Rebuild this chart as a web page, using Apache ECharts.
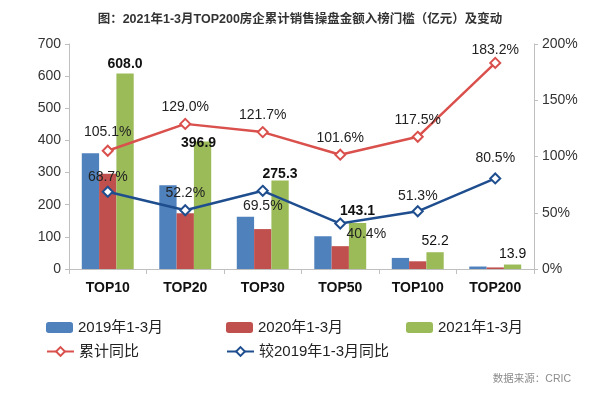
<!DOCTYPE html>
<html>
<head>
<meta charset="utf-8">
<script src="https://cdn.jsdelivr.net/npm/echarts@6/dist/echarts.min.js"></script>
<style>
html,body{margin:0;padding:0;background:#fff;}
#c{width:600px;height:395px;}
</style>
</head>
<body>
<div id="c"></div>
<script>
var categories = ['TOP10', 'TOP20', 'TOP30', 'TOP50', 'TOP100', 'TOP200'];
var v2019 = [360.4, 260.8, 162.4, 101.9, 34.5, 7.7];
var v2020 = [296.4, 173.3, 124.2, 71.0, 24.0, 4.9];
var v2021 = [608.0, 396.9, 275.3, 143.1, 52.2, 13.9];
var yoy = [105.1, 129.0, 121.7, 101.6, 117.5, 183.2];
var vs2019 = [68.7, 52.2, 69.5, 40.4, 51.3, 80.5];
var leftTicks = [0, 700, 100];
var rightTicks = [0, 200, 50];

var FONT = 'Liberation Sans, Arial, "Noto Sans CJK SC", sans-serif';
var chart = echarts.init(document.getElementById('c'));

var greenLabelStyle = [
  {fontWeight: 'bold', offset: [0, 3]},
  {fontWeight: 'bold', offset: [-4, 14]},
  {fontWeight: 'bold', offset: [0, 6]},
  {fontWeight: 'bold', offset: [0, 0]},
  {fontWeight: 'normal', offset: [0, 1]},
  {fontWeight: 'normal', offset: [0, 2]}
];
var redLabelStyle = [
  {offset: [0, -2]}, {offset: [0, 0]}, {offset: [0, 0]},
  {offset: [0, 0]}, {offset: [0, 0]}, {offset: [0, 4]}
];
var blueLabelStyle = [
  {position: 'top', offset: [0, 0]},
  {position: 'top', offset: [0, -2]},
  {position: 'bottom', offset: [0, 0]},
  {position: 'bottom', offset: [26, -4]},
  {position: 'top', offset: [0, 0]},
  {position: 'top', offset: [0, -5]}
];

function legendItem(name, left, top) {
  return {
    data: [name], left: left, top: top, itemWidth: 27, itemHeight: 11,
    textStyle: {fontSize: 15, color: '#222', fontFamily: FONT}, padding: 0, itemGap: 0
  };
}

var option = {
  backgroundColor: '#fff',
  animation: false,
  title: [{
    text: '图：2021年1-3月TOP200房企累计销售操盘金额入榜门槛（亿元）及变动',
    left: 'center', top: 8,
    textStyle: {fontSize: 12.5, fontWeight: 'bold', color: '#333', fontFamily: FONT}
  }, {
    text: '数据来源：CRIC', right: 24, top: 369,
    textStyle: {fontSize: 10.5, fontWeight: 'normal', color: '#8c8c8c', fontFamily: FONT}
  }],
  legend: [
    legendItem('2019年1-3月', 46, 320),
    legendItem('2020年1-3月', 226, 320),
    legendItem('2021年1-3月', 406, 320),
    legendItem('累计同比', 46, 344),
    legendItem('较2019年1-3月同比', 226, 344)
  ],
  grid: {left: 69, right: 66, top: 44, bottom: 126},
  xAxis: {
    type: 'category', data: categories,
    axisLine: {lineStyle: {color: '#bfbfbf', width: 1}},
    axisTick: {show: true, length: 5, lineStyle: {color: '#bfbfbf'}},
    axisLabel: {fontSize: 14, fontWeight: 'bold', color: '#111', margin: 12, fontFamily: FONT}
  },
  yAxis: [{
    type: 'value', min: leftTicks[0], max: leftTicks[1], interval: leftTicks[2],
    axisLine: {show: true, lineStyle: {color: '#bfbfbf'}},
    axisTick: {show: true, length: 4, lineStyle: {color: '#bfbfbf'}},
    splitLine: {show: false},
    axisLabel: {fontSize: 14, color: '#333', margin: 8, fontFamily: FONT}
  }, {
    type: 'value', min: rightTicks[0], max: rightTicks[1], interval: rightTicks[2],
    axisLine: {show: true, lineStyle: {color: '#bfbfbf'}},
    axisTick: {show: true, length: 4, lineStyle: {color: '#bfbfbf'}},
    splitLine: {show: false},
    axisLabel: {fontSize: 14, color: '#333', margin: 8, formatter: '{value}%', fontFamily: FONT}
  }],
  series: [{
    name: '2019年1-3月', type: 'bar', data: v2019, barGap: '0%', barCategoryGap: '33%',
    itemStyle: {color: '#4f81bd'}
  }, {
    name: '2020年1-3月', type: 'bar', data: v2020,
    itemStyle: {color: '#c0504d'}
  }, {
    name: '2021年1-3月', type: 'bar',
    data: v2021.map(function (v, i) {
      return {value: v, label: greenLabelStyle[i]};
    }),
    itemStyle: {color: '#9bbb59'},
    label: {show: true, position: 'top', fontSize: 14, color: '#111', distance: 5,
      formatter: function (p) { return p.value.toFixed(1); }, fontFamily: FONT}
  }, {
    name: '累计同比', type: 'line', yAxisIndex: 1,
    data: yoy.map(function (v, i) {
      return {value: v, label: redLabelStyle[i]};
    }),
    symbol: 'diamond', symbolSize: 10, showAllSymbol: true,
    lineStyle: {color: '#d9504c', width: 2.5},
    itemStyle: {color: '#fff', borderColor: '#d9504c', borderWidth: 2},
    label: {show: true, position: 'top', distance: 4, fontSize: 14, color: '#222',
      formatter: function (p) { return p.value.toFixed(1) + '%'; }, fontFamily: FONT},
    z: 5
  }, {
    name: '较2019年1-3月同比', type: 'line', yAxisIndex: 1,
    data: vs2019.map(function (v, i) {
      return {value: v, label: blueLabelStyle[i]};
    }),
    symbol: 'diamond', symbolSize: 10, showAllSymbol: true,
    lineStyle: {color: '#1f4e8f', width: 2.5},
    itemStyle: {color: '#fff', borderColor: '#1f4e8f', borderWidth: 2},
    label: {show: true, distance: 2, fontSize: 14, color: '#222',
      formatter: function (p) { return p.value.toFixed(1) + '%'; }, fontFamily: FONT},
    z: 6
  }]
};
chart.setOption(option);
</script>
</body>
</html>
